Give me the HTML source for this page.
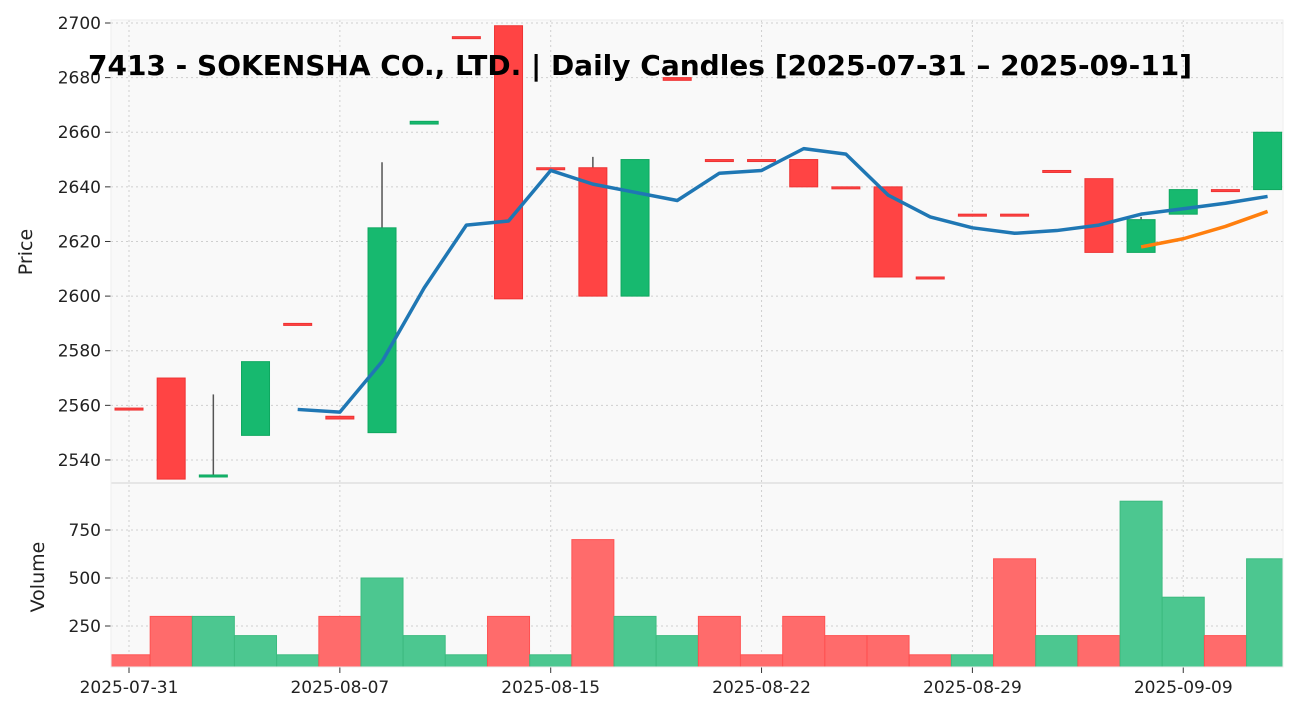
<!DOCTYPE html>
<html><head><meta charset="utf-8"><style>
body{margin:0;background:#fff;font-family:"Liberation Sans","DejaVu Sans",sans-serif}
svg text{font-family:"DejaVu Sans","Liberation Sans",sans-serif}
</style></head><body>
<svg id="c" width="1297" height="718" xmlns="http://www.w3.org/2000/svg"></svg>
<script>
const dates=["2025-07-31","","","","","2025-08-07","","","","","2025-08-15","","","","","2025-08-22","","","","","2025-08-29","","","","","2025-09-09","",""];
const opens=[2559,2570,2534,2549,2590,2556,2550,2663,2695,2699,2647,2647,2600,2680,2650,2650,2650,2640,2640,2607,2630,2630,2646,2643,2616,2630,2639,2639];
const closes=[2559,2533,2534.5,2576,2590,2555,2625,2664,2695,2599,2647,2600,2650,2679,2650,2650,2640,2640,2607,2607,2630,2630,2646,2616,2628,2639,2639,2660];
const highs=[2559,2570,2564,2576,2590,2556,2649,2664,2695,2699,2647,2651,2650,2680,2650,2650,2650,2640,2640,2607,2630,2630,2646,2643,2629,2639,2639,2660];
const lows=[2559,2533,2534,2549,2590,2555,2550,2663,2695,2599,2647,2600,2600,2679,2650,2650,2640,2640,2607,2607,2630,2630,2646,2616,2616,2630,2639,2639];
const upDay=[0,0,1,1,1,0,1,1,1,0,1,0,1,1,0,0,0,0,0,0,1,0,1,0,1,1,0,1];
const volumes=[100,300,300,200,100,300,500,200,100,300,100,700,300,200,300,100,300,200,200,100,100,600,200,200,900,400,200,600];
const ma1=[null,null,null,null,2558.5,2557.5,2576,2603,2626,2627.5,2646,2641,2638,2635,2645,2646,2654,2652,2637,2629,2625,2623,2624,2626,2630,2632,2634,2636.5];
const ma2=[null,null,null,null,null,null,null,null,null,null,null,null,null,null,null,null,null,null,null,null,null,null,null,null,2618,2621,2625.5,2631];
const priceTicks=[2540,2560,2580,2600,2620,2640,2660,2680,2700];
const volTicks=[250,500,750];

const NS="http://www.w3.org/2000/svg",svg=document.getElementById('c');
const L=111,R=1283,PT=20,PB=483,VB=667;
const x=i=>129+i*42.17;
const yp=v=>23+(2700-v)*2.731;
const yv=v=>674-v*0.192;
function el(t,a,txt){const e=document.createElementNS(NS,t);for(const k in a)e.setAttribute(k,a[k]);if(txt!==undefined)e.textContent=txt;svg.appendChild(e);return e;}
let e;
e=el('rect',{x:L,y:PT,width:R-L,height:PB-PT,fill:'#f9f9f9'});


e=el('rect',{x:L,y:PB,width:R-L,height:VB-PB,fill:'#f9f9f9'});


el('line',{x1:L,x2:R,y1:PB,y2:PB,stroke:'#e6e6e6','stroke-width':2});
// grid
priceTicks.forEach(t=>{
 el('line',{x1:L,x2:R,y1:yp(t),y2:yp(t),stroke:'#cfcfcf','stroke-dasharray':'2,3'});
 el('line',{x1:L-6,x2:L,y1:yp(t),y2:yp(t),stroke:'#333'});
 e=el('text',{x:L-10,y:yp(t)+6,'text-anchor':'end','font-size':17,fill:'#222'},t);
 
 
});
volTicks.forEach(t=>{
 el('line',{x1:L,x2:R,y1:yv(t),y2:yv(t),stroke:'#cfcfcf','stroke-dasharray':'2,3'});
 el('line',{x1:L-6,x2:L,y1:yv(t),y2:yv(t),stroke:'#333'});
 e=el('text',{x:L-10,y:yv(t)+6,'text-anchor':'end','font-size':17,fill:'#222'},t);
 
 
});
dates.forEach((d,i)=>{if(!d)return;
 el('line',{x1:x(i),x2:x(i),y1:PT,y2:VB,stroke:'#cfcfcf','stroke-dasharray':'2,3'});
 el('line',{x1:x(i),x2:x(i),y1:VB,y2:VB+6,stroke:'#333'});
 e=el('text',{x:x(i),y:VB+26,'text-anchor':'middle','font-size':17,fill:'#222'},d);
 
 
});
// volume bars
volumes.forEach((v,i)=>{
 const x0=Math.max(L,x(i)-21),x1=Math.min(R,x(i)+21);
 e=el('rect',{x:x0,y:yv(v),width:x1-x0,height:VB-yv(v),fill:upDay[i]?'#4cc790':'#ff6b6b',stroke:upDay[i]?'#3dbb80':'#ff5252','stroke-width':1});
 
 
});
// candles
opens.forEach((o,i)=>{
 const c=closes[i],g=c>o;
 const col=g?'#17b96f':'#ff4444';
 if(highs[i]>Math.max(o,c)+0.5||lows[i]<Math.min(o,c)-0.5)
  el('line',{x1:x(i),x2:x(i),y1:yp(highs[i]),y2:yp(lows[i]),stroke:'#555','stroke-width':1.5});
 const top=yp(Math.max(o,c)),h=Math.max(2,yp(Math.min(o,c))-top);
 e=el('rect',{x:x(i)-14,y:top,width:28,height:h,fill:col,stroke:g?'#0fa860':'#ee3333','stroke-width':1});
 
 
});
function line(arr,col,name){let d='';arr.forEach((v,i)=>{if(v==null)return;d+=(d?'L':'M')+x(i)+','+yp(v);});
 e=el('path',{d:d,fill:'none',stroke:col,'stroke-width':3.5,'stroke-linejoin':'round'});
 
 }
line(ma1,'#1f77b4','ma-line-blue');
line(ma2,'#ff7f0e','ma-line-orange');
el('rect',{x:L,y:PT,width:R-L,height:VB-PT,fill:'none',stroke:'#eeeeee'});
e=el('text',{x:640,y:75,'text-anchor':'middle','font-size':28,'font-weight':'bold',fill:'#000'},'7413 - SOKENSHA CO., LTD. | Daily Candles [2025-07-31 – 2025-09-11]');


e=el('text',{x:32,y:252,'text-anchor':'middle','font-size':19,fill:'#222',transform:'rotate(-90 32 252)'},'Price');


e=el('text',{x:44,y:577,'text-anchor':'middle','font-size':19,fill:'#222',transform:'rotate(-90 44 577)'},'Volume');


</script>
</body></html>
